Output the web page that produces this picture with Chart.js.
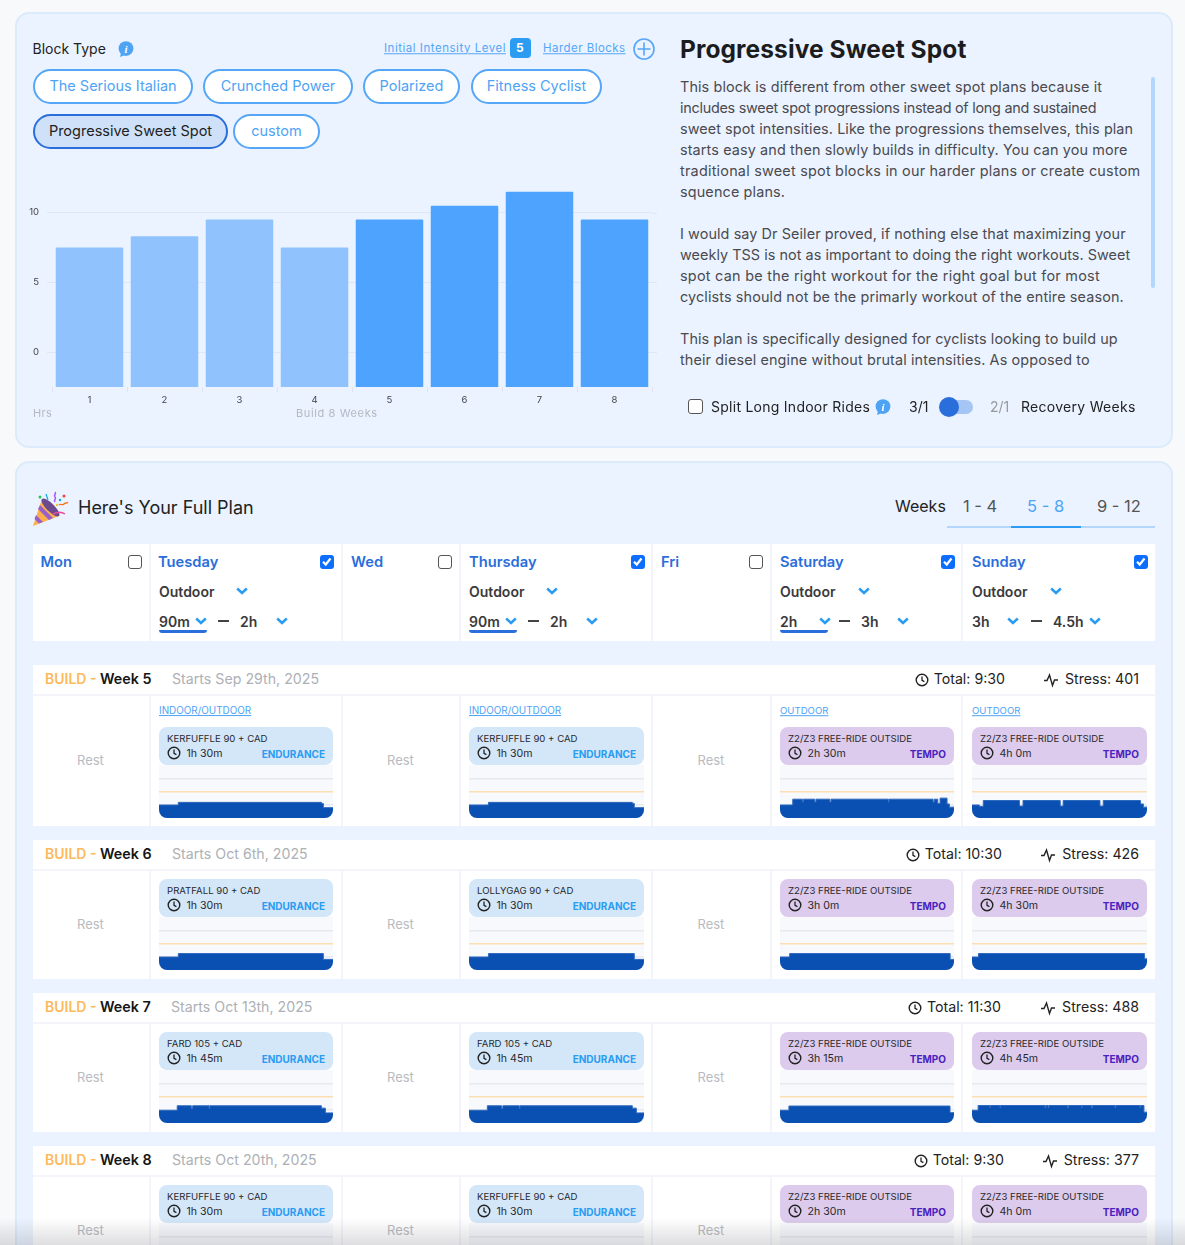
<!DOCTYPE html>
<html>
<head>
<meta charset="utf-8">
<title>Progressive Sweet Spot</title>
<script src="https://cdn.jsdelivr.net/npm/chart.js@4/dist/chart.umd.min.js"></script>
<style>
  html, body { margin: 0; padding: 0; }
  body { width: 1185px; height: 1245px; overflow: hidden; position: relative; background: #f8f9fb; font-family: Inter, "Open Sans", sans-serif; color: #222; }
  .box { position: absolute; box-sizing: border-box; }
  .panel { background: #eaf3ff; border: 2px solid #dcebfb; border-radius: 14px; }
  .t { position: absolute; white-space: nowrap; transform: translateY(-50%); line-height: 1; }
  .pill { position: absolute; box-sizing: border-box; height: 34.5px; padding-bottom: 1px; border: 2px solid #55a6f7; border-radius: 18px; background: #fff; color: #4ea3f5; font-size: 14.5px; display: flex; align-items: center; justify-content: center; white-space: nowrap; }
  .pill.on { background: #cfe1f8; border-color: #2a6edb; color: #222; }
  svg.icon { position: absolute; overflow: visible; }
  canvas { display: block; }
  #fade { position: absolute; left: 0; top: 1218px; width: 1185px; height: 27px; background: linear-gradient(rgba(90,90,100,0), rgba(90,90,100,0.2)); z-index: 5; }
</style>
</head>
<body>
<div class="box panel" style="left:15px;top:12px;width:1158px;height:436px"></div>
<div class="box panel" style="left:15px;top:461px;width:1158px;height:900px"></div>
<div class="box" style="left:0;top:171px;width:665px;height:254px"><canvas id="weeksChart" width="665" height="254"></canvas></div>
<div id="fade"></div>

<script>
// Top bar chart
const weekLabels = ['1', '2', '3', '4', '5', '6', '7', '8']
const weeklyHours = [7.5, 8.3, 9.5, 7.5, 9.5, 10.5, 11.5, 9.5]
const barColors = ['#90c3fe', '#90c3fe', '#90c3fe', '#90c3fe', '#4ea3ff', '#4ea3ff', '#4ea3ff', '#4ea3ff']
const hourTicks = [0, 5, 10]

// Block selector and description
const blockTypes = ['The Serious Italian', 'Crunched Power', 'Polarized', 'Fitness Cyclist', 'Progressive Sweet Spot', 'custom']
const descriptionLines = [
  'This block is different from other sweet spot plans because it',
  'includes sweet spot progressions instead of long and sustained',
  'sweet spot intensities. Like the progressions themselves, this plan',
  'starts easy and then slowly builds in difficulty. You can you more',
  'traditional sweet spot blocks in our harder plans or create custom',
  'squence plans.',
  '',
  'I would say Dr Seiler proved, if nothing else that maximizing your',
  'weekly TSS is not as important to doing the right workouts. Sweet',
  'spot can be the right workout for the right goal but for most',
  'cyclists should not be the primarly workout of the entire season.',
  '',
  'This plan is specifically designed for cyclists looking to build up',
  'their diesel engine without brutal intensities. As opposed to'
]
// where each line ends, the fallback font runs a little narrower
const descriptionEnds = [1102, 1096, 1133, 1128, 1140, 785, 0, 1126, 1130, 1100, 1124, 0, 1118, 1090]

// Plan table
const dayNames = ['Mon', 'Tuesday', 'Wed', 'Thursday', 'Fri', 'Saturday', 'Sunday']
const dayChecked = [false, true, false, true, false, true, true]
const planWeeks = ['Week 5', 'Week 6', 'Week 7', 'Week 8']
const startDates = ['Starts Sep 29th, 2025', 'Starts Oct 6th, 2025', 'Starts Oct 13th, 2025', 'Starts Oct 20th, 2025']
const totals = ['Total: 9:30', 'Total: 10:30', 'Total: 11:30', 'Total: 9:30']
const stresses = ['Stress: 401', 'Stress: 426', 'Stress: 488', 'Stress: 377']

const tuesdayNames = ['KERFUFFLE 90 + CAD', 'PRATFALL 90 + CAD', 'FARD 105 + CAD', 'KERFUFFLE 90 + CAD']
const thursdayNames = ['KERFUFFLE 90 + CAD', 'LOLLYGAG 90 + CAD', 'FARD 105 + CAD', 'KERFUFFLE 90 + CAD']
const tuesdayTimes = ['1h 30m', '1h 30m', '1h 45m', '1h 30m']
const saturdayTimes = ['2h 30m', '3h 0m', '3h 15m', '2h 30m']
const sundayTimes = ['4h 0m', '4h 30m', '4h 45m', '4h 0m']

// Workout profiles, step start in minutes and power as a fraction of FTP
const kerfuffleMin = [0, 10, 84, 85, 90]
const kerfufflePow = [0.49, 0.59, 0.55, 0.39, 0.39]
const pratfallMin = [0, 10, 85, 90]
const pratfallPow = [0.49, 0.62, 0.4, 0.4]
const lollygagMin = [0, 10, 85, 90]
const lollygagPow = [0.49, 0.62, 0.4, 0.4]
const fardMin = [0, 11, 19.5, 20.3, 30.2, 30.6, 94, 98, 100.4, 105]
const fardPow = [0.48, 0.65, 0.55, 0.65, 0.55, 0.65, 0.65, 0.56, 0.38, 0.38]
const ride150Min = [0, 11, 19.3, 20, 30, 31, 43, 44, 93.4, 94, 132, 133, 136, 138, 144, 146, 150]
const ride150Pow = [0.49, 0.71, 0.6, 0.71, 0.6, 0.71, 0.6, 0.71, 0.6, 0.71, 0.6, 0.71, 0.55, 0.75, 0.53, 0.41, 0.41]
const ride180Min = [0, 10, 176, 180]
const ride180Pow = [0.49, 0.62, 0.4, 0.4]
const ride195Min = [0, 10, 190.5, 195]
const ride195Pow = [0.48, 0.64, 0.39, 0.39]
const ride240Min = [0, 10, 15.5, 65, 70, 121, 125, 175.5, 180, 231, 235, 240]
const ride240Pow = [0.49, 0.44, 0.66, 0.45, 0.66, 0.45, 0.66, 0.45, 0.66, 0.53, 0.41, 0.41]
const ride270Min = [0, 10, 266, 270]
const ride270Pow = [0.49, 0.62, 0.42, 0.42]
const ride285Min = [0, 10, 29.3, 30, 45.6, 46, 119, 120, 124, 125, 156, 157, 178.6, 179, 195, 196, 233, 234, 273.6, 274.5, 280, 285]
const ride285Pow = [0.48, 0.66, 0.57, 0.66, 0.57, 0.66, 0.57, 0.66, 0.57, 0.66, 0.57, 0.66, 0.57, 0.66, 0.57, 0.66, 0.57, 0.66, 0.57, 0.66, 0.41, 0.41]
const profileGrid = [0.5, 1, 1.5]

const page = document.body
const fade = document.getElementById('fade')

function text(str, x, cy, css) {
  const el = document.createElement('div')
  el.className = 't'
  el.textContent = str
  el.style.left = x + 'px'
  el.style.top = cy + 'px'
  Object.assign(el.style, css || {})
  page.insertBefore(el, fade)
  return el
}

// same thing, anchored on its right edge
function textRight(str, right, cy, css) {
  const el = text(str, 0, cy, css)
  el.style.left = 'auto'
  el.style.right = (1185 - right) + 'px'
  return el
}

// stretch a text to the width it has in the reference
function fit(el, width) {
  el.style.letterSpacing = ((width - el.offsetWidth) / el.textContent.length) + 'px'
}

function rect(x, y, w, h, css) {
  const el = document.createElement('div')
  el.className = 'box'
  Object.assign(el.style, { left: x + 'px', top: y + 'px', width: w + 'px', height: h + 'px' }, css || {})
  page.insertBefore(el, fade)
  return el
}

function icon(x, y, w, h, inner) {
  const wrap = document.createElement('div')
  wrap.innerHTML = `<svg class="icon" style="left:${x}px;top:${y}px" width="${w}" height="${h}" viewBox="0 0 ${w} ${h}">${inner}</svg>`
  page.insertBefore(wrap.firstChild, fade)
}

const clock = (x, cy) => icon(x - 7, cy - 7, 14, 14, '<circle cx="7" cy="7" r="5.8" fill="none" stroke="#222" stroke-width="1.4"/><path d="M7 3.6V7.3L9.4 8.6" fill="none" stroke="#222" stroke-width="1.3"/>')
const pulse = (x, cy) => icon(x - 8, cy - 8, 16, 16, '<path d="M1 8.5H4L6.5 3L9.5 13.5L11.5 8H15" fill="none" stroke="#222" stroke-width="1.4"/>')
const chevron = (x, cy) => icon(x - 6, cy - 4, 12, 8, '<path d="M1.2 1.5L6 6L10.8 1.5" fill="none" stroke="#2b9cf2" stroke-width="2.6"/>')
const info = (x, cy) => icon(x - 8, cy - 8, 16, 16, '<circle cx="8" cy="7.6" r="7.4" fill="#4ea3f5"/><path d="M3 12L2 16L7 14Z" fill="#4ea3f5"/><text x="8" y="12" font-size="11" font-weight="700" font-style="italic" text-anchor="middle" fill="#fff" font-family="Liberation Serif">i</text>')

function checkbox(x, y, size, checked) {
  if (checked) {
    rect(x, y, size, size, { background: '#0d6efd', borderRadius: '3px' })
    icon(x, y, size, size, `<path d="M3 ${size / 2}L${size / 2 - 1} ${size - 4}L${size - 3} 3.5" fill="none" stroke="#fff" stroke-width="2.2"/>`)
  } else {
    rect(x, y, size, size, { background: '#fff', border: '1px solid #555', borderRadius: '3px' })
  }
}

// ---- top panel, left side
text('Block Type', 32.5, 49, { fontSize: '14px' })
info(126, 49)
fit(text('Initial Intensity Level', 384, 48.5, { fontSize: '11.5px', color: '#55a6f7', textDecoration: 'underline' }), 122)
rect(510, 37.5, 21, 20.5, { background: '#2b9cf2', borderRadius: '4px' })
text('5', 516, 47.5, { fontSize: '12px', fontWeight: 700, color: '#fff' })
fit(text('Harder Blocks', 543, 48.5, { fontSize: '11.5px', color: '#55a6f7', textDecoration: 'underline' }), 83)
icon(633, 38, 22, 22, '<circle cx="11" cy="11" r="10" fill="none" stroke="#55a6f7" stroke-width="1.6"/><path d="M11 4.5V17.5M4.5 11H17.5" stroke="#55a6f7" stroke-width="1.6"/>')

const pillBoxes = [[33, 69, 160], [203, 69, 150], [363, 69, 97], [471, 69, 131], [33, 114, 195], [233, 114, 87]]
blockTypes.forEach((name, i) => {
  const el = document.createElement('div')
  el.className = name === 'Progressive Sweet Spot' ? 'pill on' : 'pill'
  el.textContent = name
  el.style.left = pillBoxes[i][0] + 'px'
  el.style.top = pillBoxes[i][1] + 'px'
  el.style.width = pillBoxes[i][2] + 'px'
  page.insertBefore(el, fade)
})

fit(text('Hrs', 33, 412.5, { fontSize: '11px', color: '#b5b9c0' }), 19)
fit(text('Build 8 Weeks', 296, 412.5, { fontSize: '11px', color: '#b5b9c0' }), 82)

// ---- top panel, right side
fit(text('Progressive Sweet Spot', 680, 49, { fontSize: '24.5px', fontWeight: 700, color: '#1c1c1e' }), 286)
descriptionLines.forEach((line, i) => {
  if (line) fit(text(line, 680, 87 + i * 21, { fontSize: '14.4px', color: '#4a4a4f' }), descriptionEnds[i] - 680)
})
rect(1151, 77, 4, 211, { background: '#b3d6fc', borderRadius: '2px' })

checkbox(688, 399, 15, false)
fit(text('Split Long Indoor Rides', 711, 406.5, { fontSize: '14px' }), 159)
info(883, 407)
text('3/1', 909, 406.5, { fontSize: '14px' })
rect(940, 400, 33, 14, { background: '#a5c6f4', borderRadius: '7px' })
rect(939, 397, 20, 20, { background: '#2a6edb', borderRadius: '50%' })
text('2/1', 990, 406.5, { fontSize: '14px', color: '#999' })
fit(text('Recovery Weeks', 1021, 406.5, { fontSize: '14px' }), 115)

// ---- plan header
icon(33, 490, 35, 36, `<path d="M9 9L26 26L0 36Z" fill="#fbb04b"/><path d="M7 15L20 28L16 30L5 19Z" fill="#9a5fc9"/><path d="M3 25L10 32L6 33.5L1.5 29Z" fill="#9a5fc9"/><ellipse cx="17.5" cy="17.5" rx="4" ry="12" transform="rotate(-45 17.5 17.5)" fill="#6b4a8f"/>
  <path d="M22 2c2 2-2 3 0 5s-2 3 0 5" fill="none" stroke="#a855f7" stroke-width="1.5"/><path d="M26 15c2-2 3 1 5-1s3 0 4-2" fill="none" stroke="#f97316" stroke-width="1.3"/><path d="M20 24c4-2 9-2 12 0" fill="none" stroke="#ec4899" stroke-width="1.4"/><circle cx="7" cy="7" r="1.5" fill="#22c55e"/><circle cx="31" cy="6" r="1.5" fill="#ef4444"/><circle cx="27" cy="10" r="1.2" fill="#0ea5e9"/><circle cx="24" cy="15" r="1.2" fill="#fbbf24"/><path d="M13 4l2 6" stroke="#0ea5e9" stroke-width="1.2"/>`)
fit(text("Here's Your Full Plan", 78, 507.5, { fontSize: '18px' }), 176)
text('Weeks', 895, 506, { fontSize: '16px' })
text('1 - 4', 963, 505.5, { fontSize: '16.5px', color: '#555' })
text('5 - 8', 1027, 505.5, { fontSize: '16.5px', color: '#4ea3f5' })
text('9 - 12', 1097, 505.5, { fontSize: '16.5px', color: '#555' })
rect(947, 526, 208, 2, { background: '#b3d6fc' })
rect(1011, 526, 70, 2, { background: '#2b9cf2' })

// ---- day columns
const colLeft = [33, 151, 343, 461, 653, 772, 963]
const colWidth = [116, 190, 116, 190, 117, 189, 192]
const dayX = [40.5, 158, 351, 469, 661, 780, 972]
const boxLeft = [128, 320, 438, 631, 749, 941, 1134]
const DAY_TEXT = { fontSize: '14px', fontWeight: 600, color: '#3a3a3c' }

rect(33, 544, 1122, 97, { background: '#f3f5fb' })
dayNames.forEach((name, i) => {
  rect(colLeft[i], 544, colWidth[i], 97, { background: '#fff' })
  text(name, dayX[i], 562, { fontSize: '14.7px', fontWeight: 600, color: '#2a6edb' })
  checkbox(boxLeft[i], 555, 13.5, dayChecked[i])
})

// Tue, Thu, Sat, Sun dropdowns: outdoor chevron, first chevron, dash, second value, last chevron
const dropX = [159, 469, 780, 972]
const firstTimes = ['90m', '90m', '2h', '3h']
const secondTimes = ['2h', '2h', '3h', '4.5h']
const outdoorChev = [242, 552, 864, 1056]
const firstChev = [201, 511, 825, 1013]
const dashX = [218, 528, 839, 1031]
const secondX = [240, 550, 861, 1053]
const secondChev = [282, 592, 903, 1095]
dropX.forEach((x, i) => {
  text('Outdoor', x, 592, DAY_TEXT)
  chevron(outdoorChev[i], 591)
  text(firstTimes[i], x, 621.5, DAY_TEXT)
  chevron(firstChev[i], 621)
  rect(dashX[i], 620, 11, 2, { background: '#444' })
  text(secondTimes[i], secondX[i], 621.5, DAY_TEXT)
  chevron(secondChev[i], 621)
  if (i < 3) rect(x, 630, 48, 2.5, { background: '#2a6edb', borderRadius: '0 0 3px 3px' })
})

// ---- week rows
const weekTop = [665, 840, 993, 1146]
const cellHeight = [130, 108, 108, 140]
const totalRight = [1005, 1002, 1001, 1004]
const startX = [172, 172, 171, 172]
const workoutCols = [1, 3, 5, 6]
const workoutX = [159, 469, 780, 972]
const workoutW = [174, 175, 174, 175]
const restCols = [0, 2, 4]

const weekProfiles = [
  [[kerfuffleMin, kerfufflePow], [kerfuffleMin, kerfufflePow], [ride150Min, ride150Pow], [ride240Min, ride240Pow]],
  [[pratfallMin, pratfallPow], [lollygagMin, lollygagPow], [ride180Min, ride180Pow], [ride270Min, ride270Pow]],
  [[fardMin, fardPow], [fardMin, fardPow], [ride195Min, ride195Pow], [ride285Min, ride285Pow]],
  [[kerfuffleMin, kerfufflePow], [kerfuffleMin, kerfufflePow], [ride150Min, ride150Pow], [ride240Min, ride240Pow]]
]

function drawProfile(x, y, w, minutes, power) {
  const holder = rect(x, y, w, 53, { overflow: 'hidden', borderRadius: '0 0 8px 8px', background: '#f8f9fd' })
  const canvas = document.createElement('canvas')
  canvas.width = w
  canvas.height = 53
  holder.appendChild(canvas)
  new Chart(canvas, {
    type: 'line',
    data: {
      datasets: [{
        data: minutes.map((m, i) => ({ x: m, y: power[i] })),
        stepped: true,
        fill: 'origin',
        pointRadius: 0,
        borderWidth: 1,
        borderColor: '#2e69bd',
        backgroundColor: '#0a50b2'
      }]
    },
    options: {
      responsive: false,
      animation: false,
      events: [],
      layout: { padding: 0 },
      plugins: { legend: { display: false }, tooltip: { enabled: false } },
      scales: {
        x: { type: 'linear', display: false, min: 0, max: minutes[minutes.length - 1] },
        y: {
          min: 0,
          max: 2,
          border: { display: false },
          ticks: { display: false },
          afterBuildTicks: axis => { axis.ticks = profileGrid.map(v => ({ value: v })) },
          grid: {
            drawTicks: false,
            lineWidth: 1.5,
            color: c => (c.tick.value === 1 ? '#fcdfb0' : '#e6e9f0')
          }
        }
      }
    }
  })
}

planWeeks.forEach((week, w) => {
  const top = weekTop[w]
  const cellsTop = top + 31
  rect(33, top, 1122, 29, { background: '#fff' })
  rect(33, top + 29, 1122, cellHeight[w] + 2, { background: '#f3f5fb' })
  text('BUILD -', 45, top + 14, { fontSize: '14px', fontWeight: 600, color: '#fdb95a' })
  text(week, 100, top + 14, { fontSize: '14.3px', fontWeight: 600, color: '#151515' })
  text(startDates[w], startX[w], top + 14, { fontSize: '14.2px', color: '#adb0b5' })

  const tot = textRight(totals[w], totalRight[w], top + 14, { fontSize: '14.2px' })
  clock(totalRight[w] - tot.offsetWidth - 12, top + 14.5)
  const str = textRight(stresses[w], 1139, top + 14, { fontSize: '14.2px' })
  pulse(1139 - str.offsetWidth - 14, top + 14.5)

  colLeft.forEach((left, c) => {
    rect(left, cellsTop, colWidth[c], cellHeight[w], { background: '#fff' })
  })
  restCols.forEach(c => {
    const el = text('Rest', 0, cellsTop + (w === 0 ? 63.5 : 52.5), { fontSize: '13px', color: '#b9bbbf' })
    el.style.left = (colLeft[c] + colWidth[c] / 2 - el.offsetWidth / 2 - 0.5) + 'px'
  })

  const names = [tuesdayNames[w], thursdayNames[w], 'Z2/Z3 FREE-RIDE OUTSIDE', 'Z2/Z3 FREE-RIDE OUTSIDE']
  const times = [tuesdayTimes[w], tuesdayTimes[w], saturdayTimes[w], sundayTimes[w]]
  const cardTop = cellsTop + (w === 0 ? 31 : 8)
  workoutCols.forEach((c, i) => {
    const x = workoutX[i]
    const width = workoutW[i]
    const isTempo = i > 1
    if (w === 0) {
      text(isTempo ? 'OUTDOOR' : 'INDOOR/OUTDOOR', x, top + 46, { fontSize: isTempo ? '9.6px' : '9.9px', color: '#4ea3f5', textDecoration: 'underline' })
    }
    drawProfile(x, cardTop + 38, width, weekProfiles[w][i][0], weekProfiles[w][i][1])
    rect(x, cardTop, width, 38, { background: isTempo ? '#dccbec' : '#d3e7f9', borderRadius: '8px' })
    text(names[i], x + 8, cardTop + 11.5, { fontSize: '9.6px', color: '#2a2a2e' })
    clock(x + 15, cardTop + 26)
    text(times[i], x + 27.5, cardTop + 26.5, { fontSize: '10.6px', color: '#2a2a2e' })
    textRight(isTempo ? 'TEMPO' : 'ENDURANCE', x + width - 8, cardTop + 26.5, { fontSize: '10px', fontWeight: 700, color: isTempo ? '#4a22c0' : '#2b9cf2' })
  })
})

// ---- weekly hours chart
const extendGrid = {
  id: 'extendGrid',
  beforeDatasetsDraw(chart) {
    const { ctx, chartArea, scales } = chart
    ctx.save()
    ctx.strokeStyle = '#e0e7f2'
    ctx.lineWidth = 1
    hourTicks.forEach(v => {
      const y = Math.round(scales.y.getPixelForValue(v)) + 0.5
      ctx.beginPath()
      ctx.moveTo(chartArea.right, y)
      ctx.lineTo(chartArea.right + 5, y)
      ctx.stroke()
    })
    ctx.restore()
  }
}

new Chart(document.getElementById('weeksChart'), {
  type: 'bar',
  data: {
    labels: weekLabels,
    datasets: [{
      data: weeklyHours,
      base: -2.5,
      backgroundColor: barColors,
      barPercentage: 0.9,
      categoryPercentage: 1,
      borderRadius: 1,
      borderSkipped: 'bottom'
    }]
  },
  options: {
    responsive: false,
    animation: false,
    layout: { padding: { right: 13 } },
    plugins: { legend: { display: false }, tooltip: { enabled: false } },
    scales: {
      x: {
        afterFit: axis => { axis.height = 38 },
        border: { display: false },
        grid: { drawOnChartArea: false, tickLength: 5, color: '#dfe4ec' },
        ticks: { color: '#444', font: { family: 'Inter', size: 9.5 }, padding: 2, maxRotation: 0 }
      },
      y: {
        min: -2.5,
        max: 12,
        afterFit: axis => { axis.width = 52 },
        afterBuildTicks: axis => { axis.ticks = hourTicks.map(v => ({ value: v })) },
        border: { display: false },
        grid: { color: '#e0e7f2', tickLength: 5 },
        ticks: { color: '#444', font: { family: 'Inter', size: 9.5 }, padding: 8 }
      }
    }
  },
  plugins: [extendGrid]
})
</script>
</body>
</html>
